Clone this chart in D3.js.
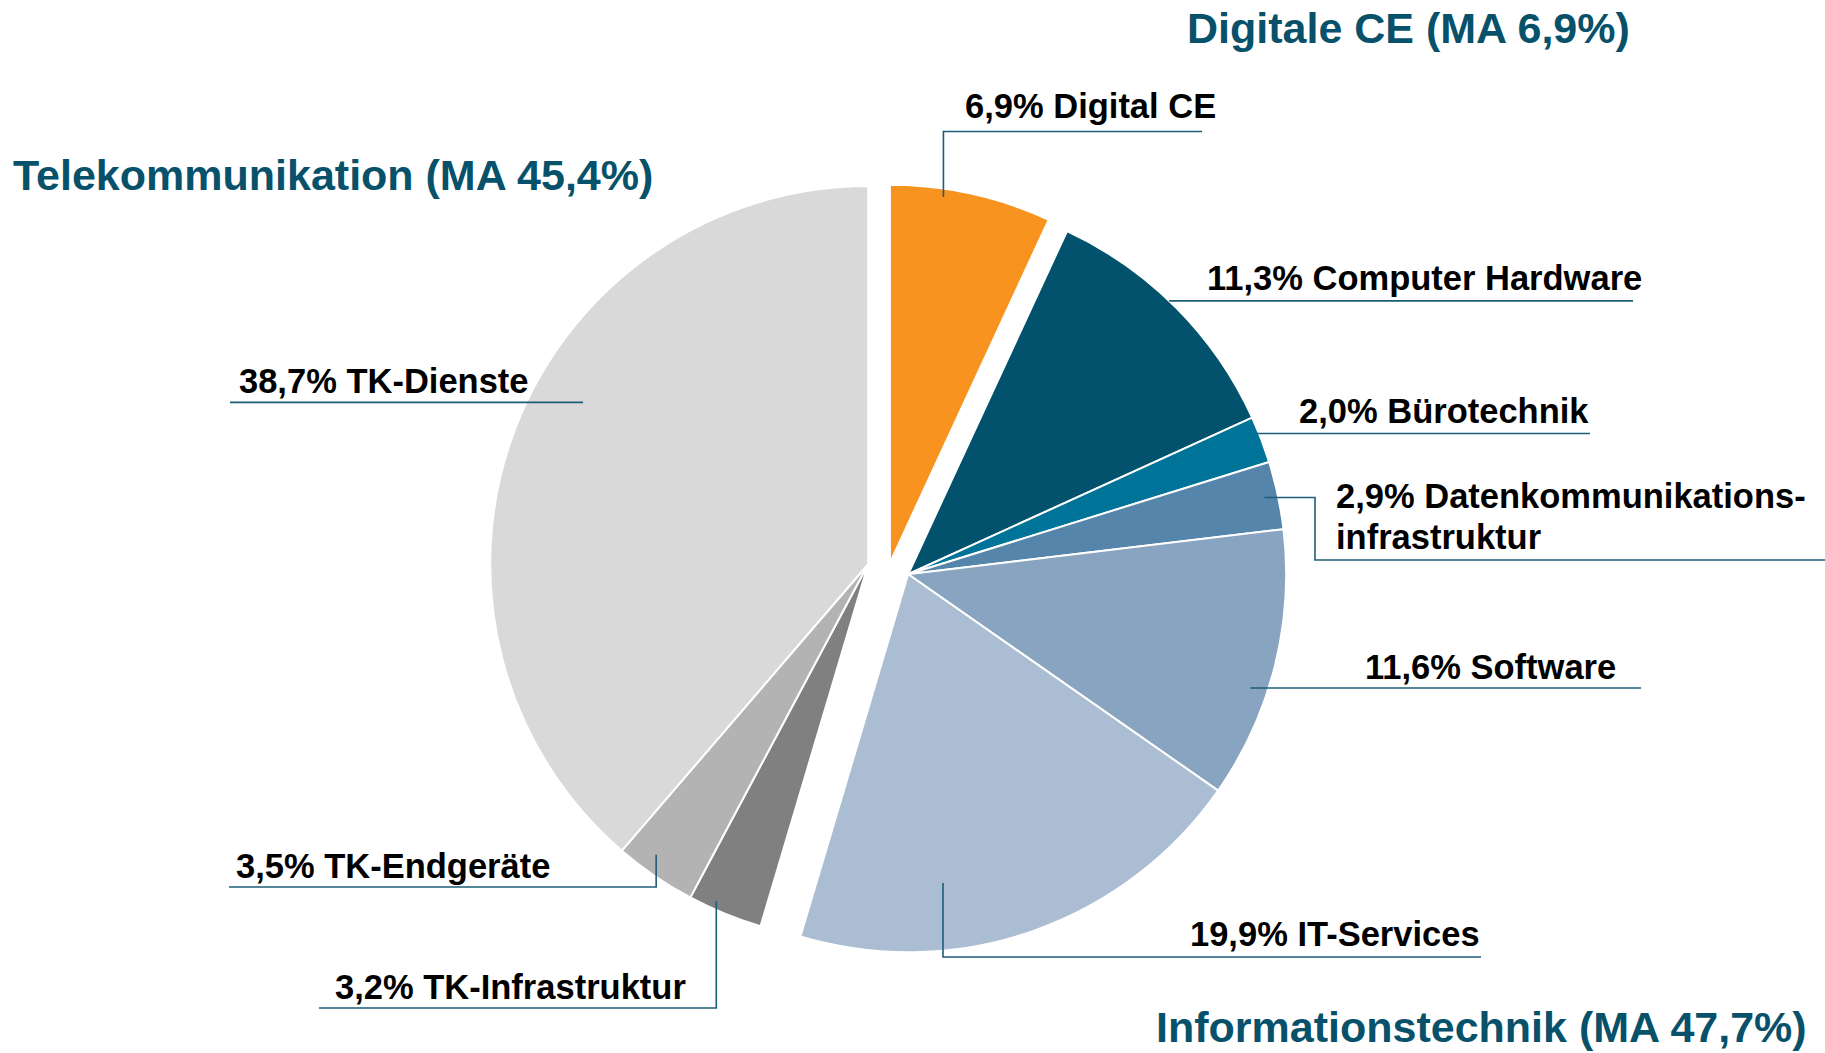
<!DOCTYPE html>
<html>
<head>
<meta charset="utf-8">
<script src="https://cdn.jsdelivr.net/npm/d3@7/dist/d3.min.js"></script>
<style>
  html, body { margin: 0; padding: 0; background: #ffffff; }
  svg { display: block; }
</style>
</head>
<body>
<svg id="chart" width="1825" height="1053"></svg>
<script>
// ---------- DATA ----------
const categories = ["Digital CE", "Computer Hardware", "Bürotechnik", "Datenkommunikations-|infrastruktur",
                    "Software", "IT-Services", "TK-Infrastruktur", "TK-Endgeräte", "TK-Dienste"];
const shares = [6.9, 11.3, 2.0, 2.9, 11.6, 19.9, 3.2, 3.5, 38.7];
const groupOf = ["ce", "it", "it", "it", "it", "it", "tk", "tk", "tk"];
const groups = ["ce", "it", "tk"];
const groupTitles = ["Digitale CE", "Informationstechnik", "Telekommunikation"];

// ---------- LAYOUT / STYLE ----------
const colors = ["#F7931E", "#02526D", "#007399", "#5585AA", "#88A4C1", "#ABBDD3", "#808080", "#B3B3B3", "#D9D9D9"];
const center = [889, 567];
const radius = 378;
const explode = { ce: 4.3, it: 20.5, tk: 21 };
const titlePos = { ce: [1187, 43], it: [1156, 1042], tk: [13, 190] };
const labelPos = [[965, 118], [1207, 290], [1299, 422.5], [1336, 507.5], [1365, 678.6],
                  [1190, 946], [335, 998.7], [236, 877.6], [239, 393]];
// anchor: [fraction along slice angle, fraction of radius]
const leaderAnchor = [[0.335, 0.978], [0.463, 1.0], [0.333, 0.99], [0.49, 0.964], [0.604, 0.954],
                      [0.679, 0.822], [0.669, 0.978], [0.637, 0.952], [0.566, 0.867]];
const leaderRoute = [
  [["v", 131.5], ["h", 1202]],
  [["h", 1633]],
  [["h", 1590]],
  [["h", 1315], ["v", 560], ["h", 1825]],
  [["h", 1641]],
  [["v", 957], ["h", 1481]],
  [["v", 1008], ["h", 319]],
  [["v", 887], ["h", 229]],
  [["h", 230]]
];
const titleColor = "#07516B";
const leaderColor = "#1D5E78";
const fontFamily = "'Liberation Sans', Arial, Helvetica, sans-serif";

// ---------- BUILD ----------
const data = categories.map((c, i) => ({ name: c, value: shares[i], group: groupOf[i], color: colors[i], idx: i }));
const fmt = v => d3.format(".1f")(v).replace(".", ",") + "%";

const pie = d3.pie().sort(null).value(d => d.value).startAngle(0).endAngle(2 * Math.PI);
const arcs = pie(data);
const arcGen = d3.arc().innerRadius(0).outerRadius(radius);

// group mid angles -> explosion offsets
const groupInfo = {};
groups.forEach(g => {
  const ga = arcs.filter(a => a.data.group === g);
  const s = d3.min(ga, a => a.startAngle), e = d3.max(ga, a => a.endAngle);
  const mid = (s + e) / 2;
  groupInfo[g] = { dx: explode[g] * Math.sin(mid), dy: -explode[g] * Math.cos(mid),
                   total: d3.sum(ga, a => a.data.value) };
});

const svg = d3.select("#chart");
const root = svg.append("g").attr("transform", `translate(${center[0]},${center[1]})`);

root.selectAll("path.slice")
  .data(arcs)
  .join("path")
  .attr("class", "slice")
  .attr("transform", d => `translate(${groupInfo[d.data.group].dx},${groupInfo[d.data.group].dy})`)
  .attr("d", arcGen)
  .attr("fill", d => d.data.color)
  .attr("stroke", "#ffffff")
  .attr("stroke-width", 2)
  .attr("stroke-linejoin", "round");

// leader lines
const line = d3.line();
arcs.forEach((a, i) => {
  const gi = groupInfo[a.data.group];
  const [t, k] = leaderAnchor[i];
  const ang = a.startAngle + t * (a.endAngle - a.startAngle);
  let x = center[0] + gi.dx + radius * k * Math.sin(ang);
  let y = center[1] + gi.dy - radius * k * Math.cos(ang);
  const pts = [[x, y]];
  leaderRoute[i].forEach(([m, v]) => {
    if (m === "h") x = v; else y = v;
    pts.push([x, y]);
  });
  svg.append("path")
    .attr("d", line(pts))
    .attr("fill", "none")
    .attr("stroke", leaderColor)
    .attr("stroke-width", 1.6);
});

// labels
arcs.forEach((a, i) => {
  const parts = a.data.name.split("|");
  const txt = svg.append("text")
    .attr("x", labelPos[i][0])
    .attr("y", labelPos[i][1])
    .attr("font-family", fontFamily)
    .attr("font-weight", "bold")
    .attr("font-size", 34.5)
    .attr("fill", "#000000");
  parts.forEach((p, j) => {
    txt.append("tspan")
      .attr("x", labelPos[i][0])
      .attr("dy", j === 0 ? 0 : 41.5)
      .text(j === 0 ? fmt(a.data.value) + " " + p : p);
  });
});

// group titles
groups.forEach((g, i) => {
  svg.append("text")
    .attr("x", titlePos[g][0])
    .attr("y", titlePos[g][1])
    .attr("font-family", fontFamily)
    .attr("font-weight", "bold")
    .attr("font-size", 43)
    .attr("fill", titleColor)
    .text(`${groupTitles[i]} (MA ${fmt(groupInfo[g].total)})`);
});
</script>
</body>
</html>
